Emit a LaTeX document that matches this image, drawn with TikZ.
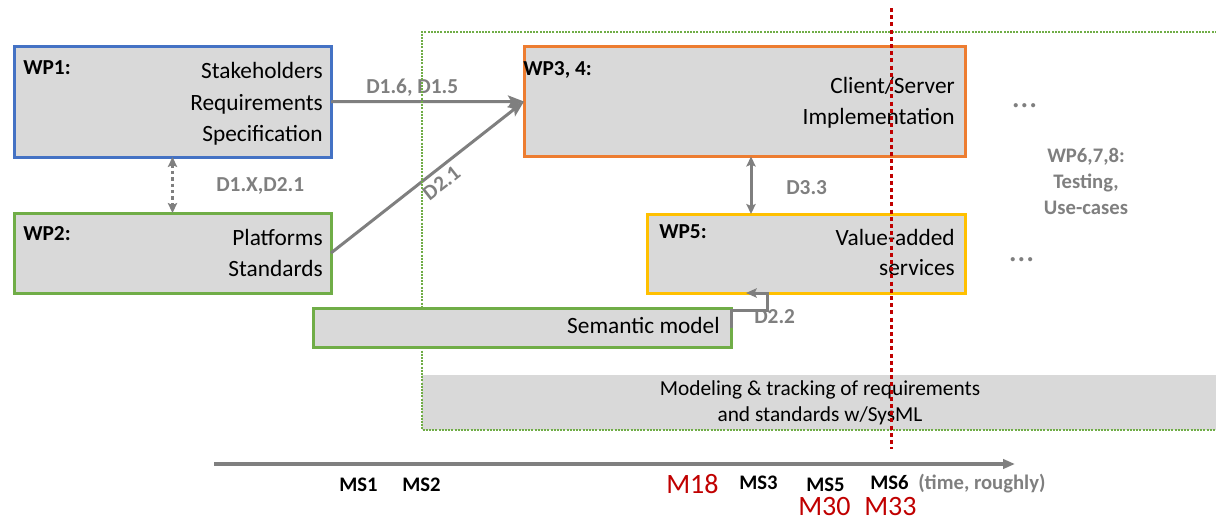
\documentclass[tikz,border=0pt]{standalone}
\usepackage{fontspec}
\setmainfont{Carlito}
\usetikzlibrary{arrows.meta}

\definecolor{boxgray}{HTML}{D9D9D9}
\definecolor{wpblue}{HTML}{4472C4}
\definecolor{wpgreen}{HTML}{70AD47}
\definecolor{wporange}{HTML}{ED7D31}
\definecolor{wpgold}{HTML}{FFC000}
\definecolor{linegray}{HTML}{7F7F7F}
\definecolor{darkred}{HTML}{C00000}

\begin{document}
\begin{tikzpicture}[
  x=0.75pt, y=-0.75pt,
  wpbox/.style={draw=#1, line width=2.25pt, fill=boxgray, anchor=north west,
                inner sep=0pt, outer sep=0pt},
  boxw/.style={minimum width=#1*0.75pt},
  boxh/.style={minimum height=#1*0.75pt},
  bodytext/.style={font=\fontsize{17.5}{21}\selectfont, inner sep=0pt, anchor=base east},
  wptitle/.style={font=\bfseries\fontsize{16}{19}\selectfont, inner sep=0pt, anchor=base west},
  dlabel/.style={text=linegray, font=\bfseries\fontsize{16}{19}\selectfont, inner sep=0pt, anchor=base west},
  conn/.style={draw=linegray, line width=2.25pt},
  bighead/.style={-{Stealth[length=12pt, width=9pt, inset=2.5pt]}},
  twohead/.style={{Stealth[length=7.5pt, width=7pt, inset=1.5pt]}-{Stealth[length=7.5pt, width=7pt, inset=1.5pt]}},
  mslabel/.style={font=\bfseries\fontsize{15.5}{18}\selectfont, inner sep=0pt, anchor=base west},
  monthlabel/.style={text=darkred, font=\fontsize{21}{25}\selectfont, inner sep=0pt, anchor=base west},
  dots/.style={text=linegray, font=\fontsize{26}{30}\selectfont, inner sep=0pt, anchor=base},
  greenframe/.style={draw=wpgreen, line width=1.5pt, dash pattern=on 1.5pt off 0.9pt},
  redmark/.style={draw=darkred, line width=2.25pt, dash pattern=on 3pt off 2.4pt},
]
\useasboundingbox (0,0) rectangle (1216,521);

% SysML band across the lower part of the frame
\node[fill=boxgray, anchor=north west, inner sep=0pt, outer sep=0pt, boxw=796, boxh=55,
      align=center, font=\fontsize{16}{19.5}\selectfont] (band) at (422,375)
  {Modeling \& tracking of requirements\\and standards w/SysML};

% work package boxes
\node[wpbox=wpblue,   boxw=317, boxh=110.5] (wp1)  at (14,46.5) {};
\node[wpbox=wpgreen,  boxw=317, boxh=80]    (wp2)  at (14,213) {};
\node[wpbox=wporange, boxw=441, boxh=110]   (wp34) at (524,46.5) {};
\node[wpbox=wpgold,   boxw=318, boxh=79]    (wp5)  at (647,214) {};

% box texts
\node[wptitle] (t1)  at (23,74) {WP1:};
\node[bodytext] (t1a) at (323,78.5) {Stakeholders};
\node[bodytext] (t1b) at (323,110) {Requirements};
\node[bodytext] (t1c) at (323,141) {Specification};

\node[wptitle] (t2)  at (23,240) {WP2:};
\node[bodytext] (t2a) at (323,245) {Platforms};
\node[bodytext] (t2b) at (323,276.5) {Standards};

\node[wptitle] (t34)  at (523,75) {WP3, 4:};
\node[bodytext] (t34a) at (955,93) {Client/Server};
\node[bodytext] (t34b) at (955,124) {Implementation};

\node[wptitle] (t5)  at (659,238) {WP5:};
\node[bodytext] (t5a) at (955,245) {Value-added};
\node[bodytext] (t5b) at (955,275) {services};

% deliverable flows
\draw[conn, bighead] (wp1.east) -- (wp34.west);
\node[dlabel] (d16) at (366,93) {D1.6, D1.5};

\draw[conn, bighead] (wp2.east) --
  node[dlabel, sloped, anchor=north, pos=0.53, inner sep=3.5pt] (d21) {D2.1} (wp34.west);

\draw[conn, twohead, dash pattern=on 2.6pt off 2.2pt] (wp1.south) -- (wp2.north);
\node[dlabel] (d1x) at (216,191.5) {D1.X,D2.1};

\coordinate (d33x) at (751,0);
\draw[conn, twohead] (wp34.south -| d33x) -- (wp5.north -| d33x);
\node[dlabel] (d33) at (786,194) {D3.3};

% later work packages
\node[dots] (e1) at (1024.5,107.5) {…};
\node[dots] (e2) at (1021.5,261) {…};
\node[text=linegray, font=\bfseries\fontsize{15.5}{19.5}\selectfont, align=center,
      inner sep=0pt] (wp678) at (1086,181) {WP6,7,8:\\Testing,\\Use-cases};

% frame of the modelling activity
\coordinate (fa) at (1220,31.7);
\coordinate (fb) at (422,31.7);
\coordinate (fc) at (422,430);
\coordinate (fd) at (1220,430);
\draw[greenframe] (fa) -- (fb) -- (fc) -- (fd);

% semantic model and its link to WP5
\node[wpbox=wpgreen, boxw=418, boxh=39] (sem) at (313,308) {};
\node[bodytext] (tsem) at (720,333.5) {Semantic model};
\coordinate (d22c) at (767,310);
\coordinate (d22t) at (746,293);
\draw[conn, -{Stealth[length=8pt, width=7pt, inset=1.5pt]}] (sem.east) |- (d22c) |- (d22t);
\node[dlabel] (d22) at (754,323) {D2.2};

% time axis
\coordinate (ta) at (214,464);
\coordinate (tb) at (1015,464);
\draw[draw=linegray, line width=2.6pt, -{Triangle[length=9pt, width=7pt]}] (ta) -- (tb);

\node[mslabel] (ms1) at (339,491.5) {MS1};
\node[mslabel] (ms2) at (402,491.5) {MS2};
\node[mslabel] (ms3) at (739,489.5) {MS3};
\node[mslabel] (ms5) at (806,491) {MS5};
\node[mslabel] (ms6) at (870,489.5) {MS6};
\node[mslabel, text=linegray] (tr) at (918,489.5) {(time, roughly)};
\node[monthlabel] (m18) at (666,493) {M18};
\node[monthlabel] (m30) at (798,515.5) {M30};
\node[monthlabel] (m33) at (864,515.5) {M33};

% current status marker
\coordinate (ra) at (891,8);
\coordinate (rb) at (891,449);
\draw[redmark] (ra) -- (rb);
\end{tikzpicture}
\end{document}
